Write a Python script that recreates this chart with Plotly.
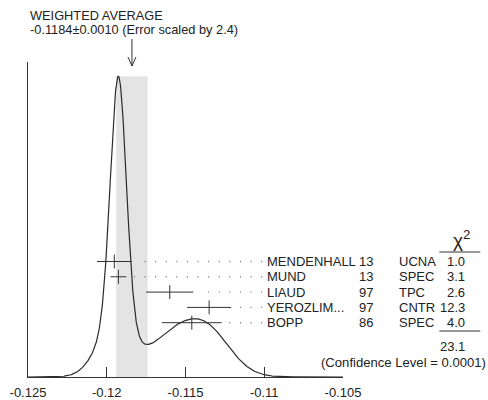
import numpy as np
import plotly.graph_objects as go

# Measurements of the neutron beta-asymmetry parameter A
authors = ["MENDENHALL", "MUND", "LIAUD", "YEROZLIM...", "BOPP"]
years = ["13", "13", "97", "97", "86"]
techniques = ["UCNA", "SPEC", "TPC", "CNTR", "SPEC"]
values = [-0.11952, -0.11926, -0.1160, -0.1135, -0.1146]
errors = [0.00110, 0.00050, 0.0015, 0.0014, 0.0019]
chi2 = ["1.0", "3.1", "2.6", "12.3", "4.0"]
chi2_total = "23.1"
confidence_level = "0.0001"

avg_value = -0.1184
avg_error = 0.0010
scale_factor = 2.4

tick_values = [-0.125, -0.12, -0.115, -0.11, -0.105]
tick_labels = ["-0.125", "-0.12", "-0.115", "-0.11", "-0.105"]
x_range = [-0.125, -0.105]

# Canvas geometry (pixels)
W, H = 488, 400
ML, MR, MT, MB = 28, 144.5, 62, 23
PW = W - ML - MR
PH = H - MT - MB
px_per_unit = PW / (x_range[1] - x_range[0])

FONT = "Liberation Sans, Arial, Helvetica, sans-serif"
INK = "#222222"

# Ideogram: each measurement is a Gaussian of width sigma and area 1/sigma
xs = np.linspace(x_range[0], x_range[1], 1201)
curve = np.zeros_like(xs)
for v, s in zip(values, errors):
    curve += (1.0 / s) * np.exp(-0.5 * ((xs - v) / s) ** 2) / (s * np.sqrt(2 * np.pi))
peak = curve.max()
y_top = peak / 0.955

# Row axis: row i sits at value -i
row_px_bottom = H - MB - 261.5   # pixels of row 0 above the x axis line
row_step = 15.3
y2_range = [-row_px_bottom / row_step, (PH - row_px_bottom) / row_step]
rows = [-i for i in range(len(authors))]


def px_to_paper_x(px):
    return (px - ML) / PW


def px_to_paper_y(py):
    return (H - MB - py) / PH


def px_to_data_x(px):
    return x_range[0] + (px - ML) / px_per_unit


fig = go.Figure()

# Ideogram curve
fig.add_trace(go.Scatter(
    x=xs, y=curve, mode="lines",
    line=dict(color="#2a2a2a", width=1.2),
    hoverinfo="skip", showlegend=False,
))

# Dotted leaders from each error bar to its label (drawn right-to-left)
label_x_px = 266.5
for v, s, r in zip(values, errors, rows):
    x_start = v + s + 6 / px_per_unit
    x_end = px_to_data_x(label_x_px - 4)
    fig.add_trace(go.Scatter(
        x=[x_end, x_start], y=[r, r], yaxis="y2", mode="lines",
        line=dict(color="#7a7a7a", width=1.4, dash="1px,9.6px"),
        hoverinfo="skip", showlegend=False,
    ))

# Measurements with error bars
fig.add_trace(go.Scatter(
    x=values, y=rows, yaxis="y2", mode="markers",
    error_x=dict(type="data", array=errors, visible=True,
                 color="#333333", thickness=1, width=0),
    marker=dict(symbol="line-ns", size=10,
                line=dict(color="#333333", width=1)),
    hoverinfo="skip", showlegend=False,
))

shapes = []
# Scaled-error band of the weighted average
shapes.append(dict(
    type="rect", xref="x", yref="y",
    x0=avg_value - avg_error, x1=avg_value + avg_error, y0=0, y1=peak,
    fillcolor="#e4e4e4", line=dict(width=0), layer="below",
))
# Arrow marking the weighted average
tip = px_to_paper_y(66)
tail = px_to_paper_y(39)
dx = 4 / px_per_unit
dy = 9 / PH
shapes.append(dict(
    type="path", xref="x", yref="paper",
    path=(f"M {avg_value},{tail} L {avg_value},{tip} "
          f"M {avg_value - dx},{tip + dy} L {avg_value},{tip} L {avg_value + dx},{tip + dy}"),
    line=dict(color="#333333", width=1),
))
# Rules of the chi-squared column
for py in (252, 331):
    shapes.append(dict(
        type="line", xref="paper", yref="paper",
        x0=px_to_paper_x(440), x1=px_to_paper_x(481),
        y0=px_to_paper_y(py), y1=px_to_paper_y(py),
        line=dict(color="#333333", width=1),
    ))

annotations = []
text_font = dict(family=FONT, size=13, color=INK)


def label(text, x, y, xanchor, yref="paper", font=text_font):
    return dict(xref="paper", yref=yref, x=x, y=y, text=text, showarrow=False,
                xanchor=xanchor, yanchor="middle", borderpad=0, font=font)


title_font = dict(family=FONT, size=12.8, color=INK)
annotations.append(label("WEIGHTED AVERAGE", px_to_paper_x(29), px_to_paper_y(15),
                         "left", font=title_font))
annotations.append(label(
    f"{avg_value:.4f}\u00b1{avg_error:.4f} (Error scaled by {scale_factor})",
    px_to_paper_x(29), px_to_paper_y(29.5), "left", font=title_font))

for a, yr, t, c, r in zip(authors, years, techniques, chi2, rows):
    annotations.append(label(a, px_to_paper_x(label_x_px), r, "left", yref="y2"))
    annotations.append(label(yr, px_to_paper_x(374.5), r, "right", yref="y2"))
    annotations.append(label(t, px_to_paper_x(398.5), r, "left", yref="y2"))
    annotations.append(label(c, px_to_paper_x(467), r, "right", yref="y2"))

annotations.append(label("\u03c7<sup>2</sup>", px_to_paper_x(462), px_to_paper_y(239), "center",
                         font=dict(family=FONT, size=19, color=INK)))
annotations.append(label(chi2_total, px_to_paper_x(467), px_to_paper_y(346), "right"))
annotations.append(label(f"(Confidence Level = {confidence_level})",
                         px_to_paper_x(487.5), px_to_paper_y(362), "right",
                         font=dict(family=FONT, size=13.1, color=INK)))

fig.update_layout(
    width=W, height=H, autosize=False,
    margin=dict(l=ML, r=MR, t=MT, b=MB, pad=0, autoexpand=False),
    paper_bgcolor="white", plot_bgcolor="white",
    showlegend=False,
    xaxis=dict(
        range=x_range, tickmode="array", tickvals=tick_values, ticktext=tick_labels,
        ticks="inside", ticklen=10, tickwidth=1, tickcolor="#333333",
        ticklabelstandoff=3, automargin=False,
        showline=True, linecolor="#333333", linewidth=1.2,
        showgrid=False, zeroline=False,
        tickfont=dict(family=FONT, size=13, color=INK),
    ),
    yaxis=dict(
        range=[0, y_top], showline=True, linecolor="#333333", linewidth=1.2,
        showticklabels=False, ticks="", showgrid=False, zeroline=False,
        automargin=False,
    ),
    yaxis2=dict(
        range=y2_range, overlaying="y", showline=False, showticklabels=False,
        ticks="", showgrid=False, zeroline=False, automargin=False,
    ),
    shapes=shapes,
    annotations=annotations,
)

fig.write_html("out.html")
